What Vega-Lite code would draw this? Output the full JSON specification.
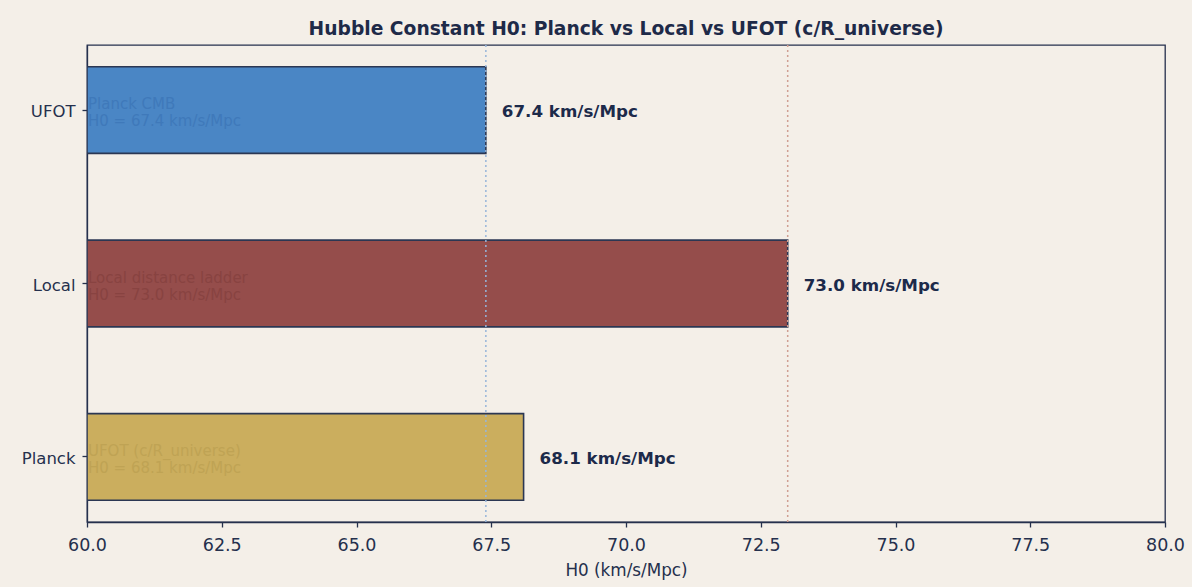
{
  "$schema": "https://vega.github.io/schema/vega-lite/v6.json",
  "width": 1078,
  "height": 477,
  "autosize": {"type": "none"},
  "padding": {"left": 87, "top": 45, "right": 27, "bottom": 65},
  "background": "#f4efe8",
  "config": {
    "font": "DejaVu Sans",
    "view": {"stroke": "#25304d", "strokeWidth": 1.3, "fill": "#f4efe8"},
    "axis": {"grid": false, "domainColor": "#25304d", "tickColor": "#25304d", "labelColor": "#25304d", "titleColor": "#25304d", "labelFont": "DejaVu Sans", "titleFont": "DejaVu Sans", "domainWidth": 1.3, "tickWidth": 1.3, "tickSize": 5}
  },
  "title": {"text": "Hubble Constant H0: Planck vs Local vs UFOT (c/R_universe)", "font": "DejaVu Sans", "fontSize": 18.7, "fontWeight": "bold", "color": "#1e2a48", "offset": 6, "anchor": "middle"},
  "datasets": {
    "bars": [
      {"name": "UFOT", "value": 67.4, "start": 60, "series": "blue", "label": "67.4 km/s/Mpc", "note": "Planck CMB\nH0 = 67.4 km/s/Mpc"},
      {"name": "Local", "value": 73.0, "start": 60, "series": "red", "label": "73.0 km/s/Mpc", "note": "Local distance ladder\nH0 = 73.0 km/s/Mpc"},
      {"name": "Planck", "value": 68.1, "start": 60, "series": "gold", "label": "68.1 km/s/Mpc", "note": "UFOT (c/R_universe)\nH0 = 68.1 km/s/Mpc"}
    ],
    "refs": [
      {"ref": 67.4, "kind": "planck"},
      {"ref": 73.0, "kind": "local"}
    ]
  },
  "layer": [
    {
      "data": {"name": "bars"},
      "mark": {"type": "bar", "stroke": "#2b3753", "strokeWidth": 1.6, "clip": true},
      "encoding": {
        "y": {"field": "name", "type": "nominal", "sort": ["UFOT", "Local", "Planck"], "scale": {"paddingInner": 0.5, "paddingOuter": 0.125}, "axis": {"title": null, "labelFontSize": 16.5, "labelPadding": 7, "labelOffset": 2}},
        "x": {"field": "value", "type": "quantitative", "scale": {"domain": [60, 80], "nice": false, "zero": false}, "axis": {"title": "H0 (km/s/Mpc)", "titleFontSize": 16.8, "titleFontWeight": "normal", "titlePadding": 9, "labelFontSize": 17.5, "labelPadding": 9, "labelFlush": false, "values": [60, 62.5, 65, 67.5, 70, 72.5, 75, 77.5, 80], "format": ".1f"}},
        "x2": {"field": "start"},
        "color": {"field": "series", "type": "nominal", "scale": {"domain": ["blue", "red", "gold"], "range": ["#4a86c5", "#954d4b", "#cbae5e"]}, "legend": null}
      }
    },
    {
      "data": {"name": "bars"},
      "mark": {"type": "text", "align": "left", "baseline": "middle", "fontSize": 15, "lineBreak": "\n", "lineHeight": 17, "dx": 1, "dy": -6},
      "encoding": {
        "y": {"field": "name", "type": "nominal", "sort": ["UFOT", "Local", "Planck"]},
        "x": {"field": "start", "type": "quantitative"},
        "text": {"field": "note"},
        "color": {"field": "series", "type": "nominal", "scale": {"domain": ["blue", "red", "gold"], "range": ["#3f79ba", "#884341", "#bfa354"]}, "legend": null}
      }
    },
    {
      "data": {"name": "refs"},
      "mark": {"type": "rule", "strokeDash": [2, 3], "strokeWidth": 1.5},
      "encoding": {
        "x": {"field": "ref", "type": "quantitative"},
        "color": {"field": "kind", "type": "nominal", "scale": {"domain": ["planck", "local"], "range": ["#97b5d9", "#cf9f92"]}, "legend": null}
      }
    },
    {
      "data": {"name": "bars"},
      "mark": {"type": "text", "align": "left", "baseline": "middle", "fontSize": 16.7, "fontWeight": "bold", "dx": 16, "dy": 2, "color": "#1c2a4a"},
      "encoding": {
        "y": {"field": "name", "type": "nominal", "sort": ["UFOT", "Local", "Planck"]},
        "x": {"field": "value", "type": "quantitative"},
        "text": {"field": "label"}
      }
    }
  ],
  "resolve": {"scale": {"color": "independent"}}
}
